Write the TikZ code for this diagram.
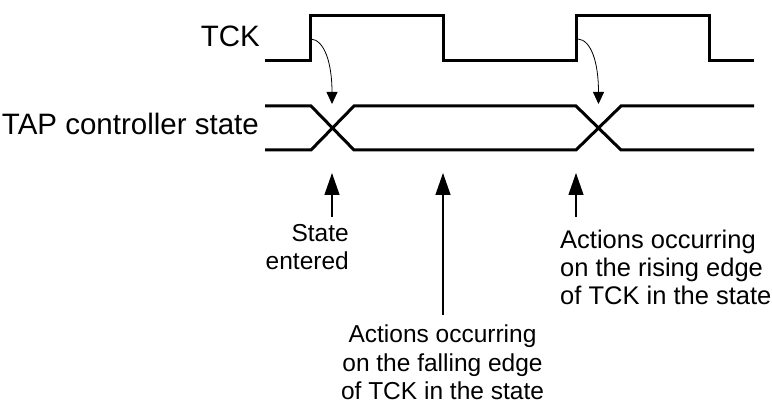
\documentclass[tikz,border=0pt]{standalone}
\usepackage{fontspec}
\setmainfont{Liberation Sans}
\usetikzlibrary{arrows.meta}
\begin{document}
\begin{tikzpicture}[x=1pt,y=-1pt,
  wave/.style={line width=3pt,line join=miter},
  bigarrow/.style={line width=1.3pt,-{Triangle[length=22pt,width=15pt]}},
  smallarrow/.style={line width=0.8pt,-{Triangle[length=12pt,width=11pt]}},
  siglabel/.style={inner sep=0pt,font=\fontsize{29.5}{35}\selectfont},
  notelabel/.style={inner sep=0pt,font=\fontsize{24.5}{28.5}\selectfont}]
\useasboundingbox (0,0) rectangle (772,411);
% labels
\node[siglabel,anchor=base east] (tck) at (260,47) {TCK};
\node[siglabel,anchor=base east] (tap) at (259,135) {TAP controller state};
% TCK waveform
\coordinate (r1) at (310,16);
\coordinate (r2) at (576,16);
\draw[wave] (265,61) -- (310,61) -- (r1) -- (443,16) -- (443,61) -- (576,61) -- (r2) -- (709,16) -- (709,61) -- (754,61);
% state waveform
\coordinate (x1) at (332,128);
\coordinate (x2) at (598.5,128);
\draw[wave] (265,106) -- (311,106) -- (354,150) -- (576,150) -- (621,106) -- (754,106);
\draw[wave] (265,150) -- (311,150) -- (354,106) -- (576,106) -- (621,150) -- (754,150);
% curved arrows
\coordinate (c1s) at (311,39);
\coordinate (c1e) at (332,104);
\coordinate (c2s) at (578,39);
\coordinate (c2e) at (598.5,104);
\draw[smallarrow] (c1s) .. controls (324,40) and (332,62) .. (c1e);
\draw[smallarrow] (c2s) .. controls (591,40) and (598.5,62) .. (c2e);
% notes
\node[notelabel,anchor=north east,align=right] (n1) at (349,224) {State\\entered};
\node[notelabel,anchor=north,align=center] (n2) at (442.5,325) {Actions occurring\\on the falling edge\\of TCK in the state};
\node[notelabel,anchor=north west,align=left,font=\fontsize{25.5}{28}\selectfont] (n3) at (560,230) {Actions occurring\\on the rising edge\\of TCK in the state};
\coordinate (a1s) at (332,217);
\coordinate (a1e) at (332,173);
\coordinate (a2s) at (443,315);
\coordinate (a2e) at (443,173);
\coordinate (a3s) at (576,217);
\coordinate (a3e) at (576,173);
\draw[bigarrow] (a1s) -- (a1e);
\draw[bigarrow] (a2s) -- (a2e);
\draw[bigarrow] (a3s) -- (a3e);
\end{tikzpicture}
\end{document}
